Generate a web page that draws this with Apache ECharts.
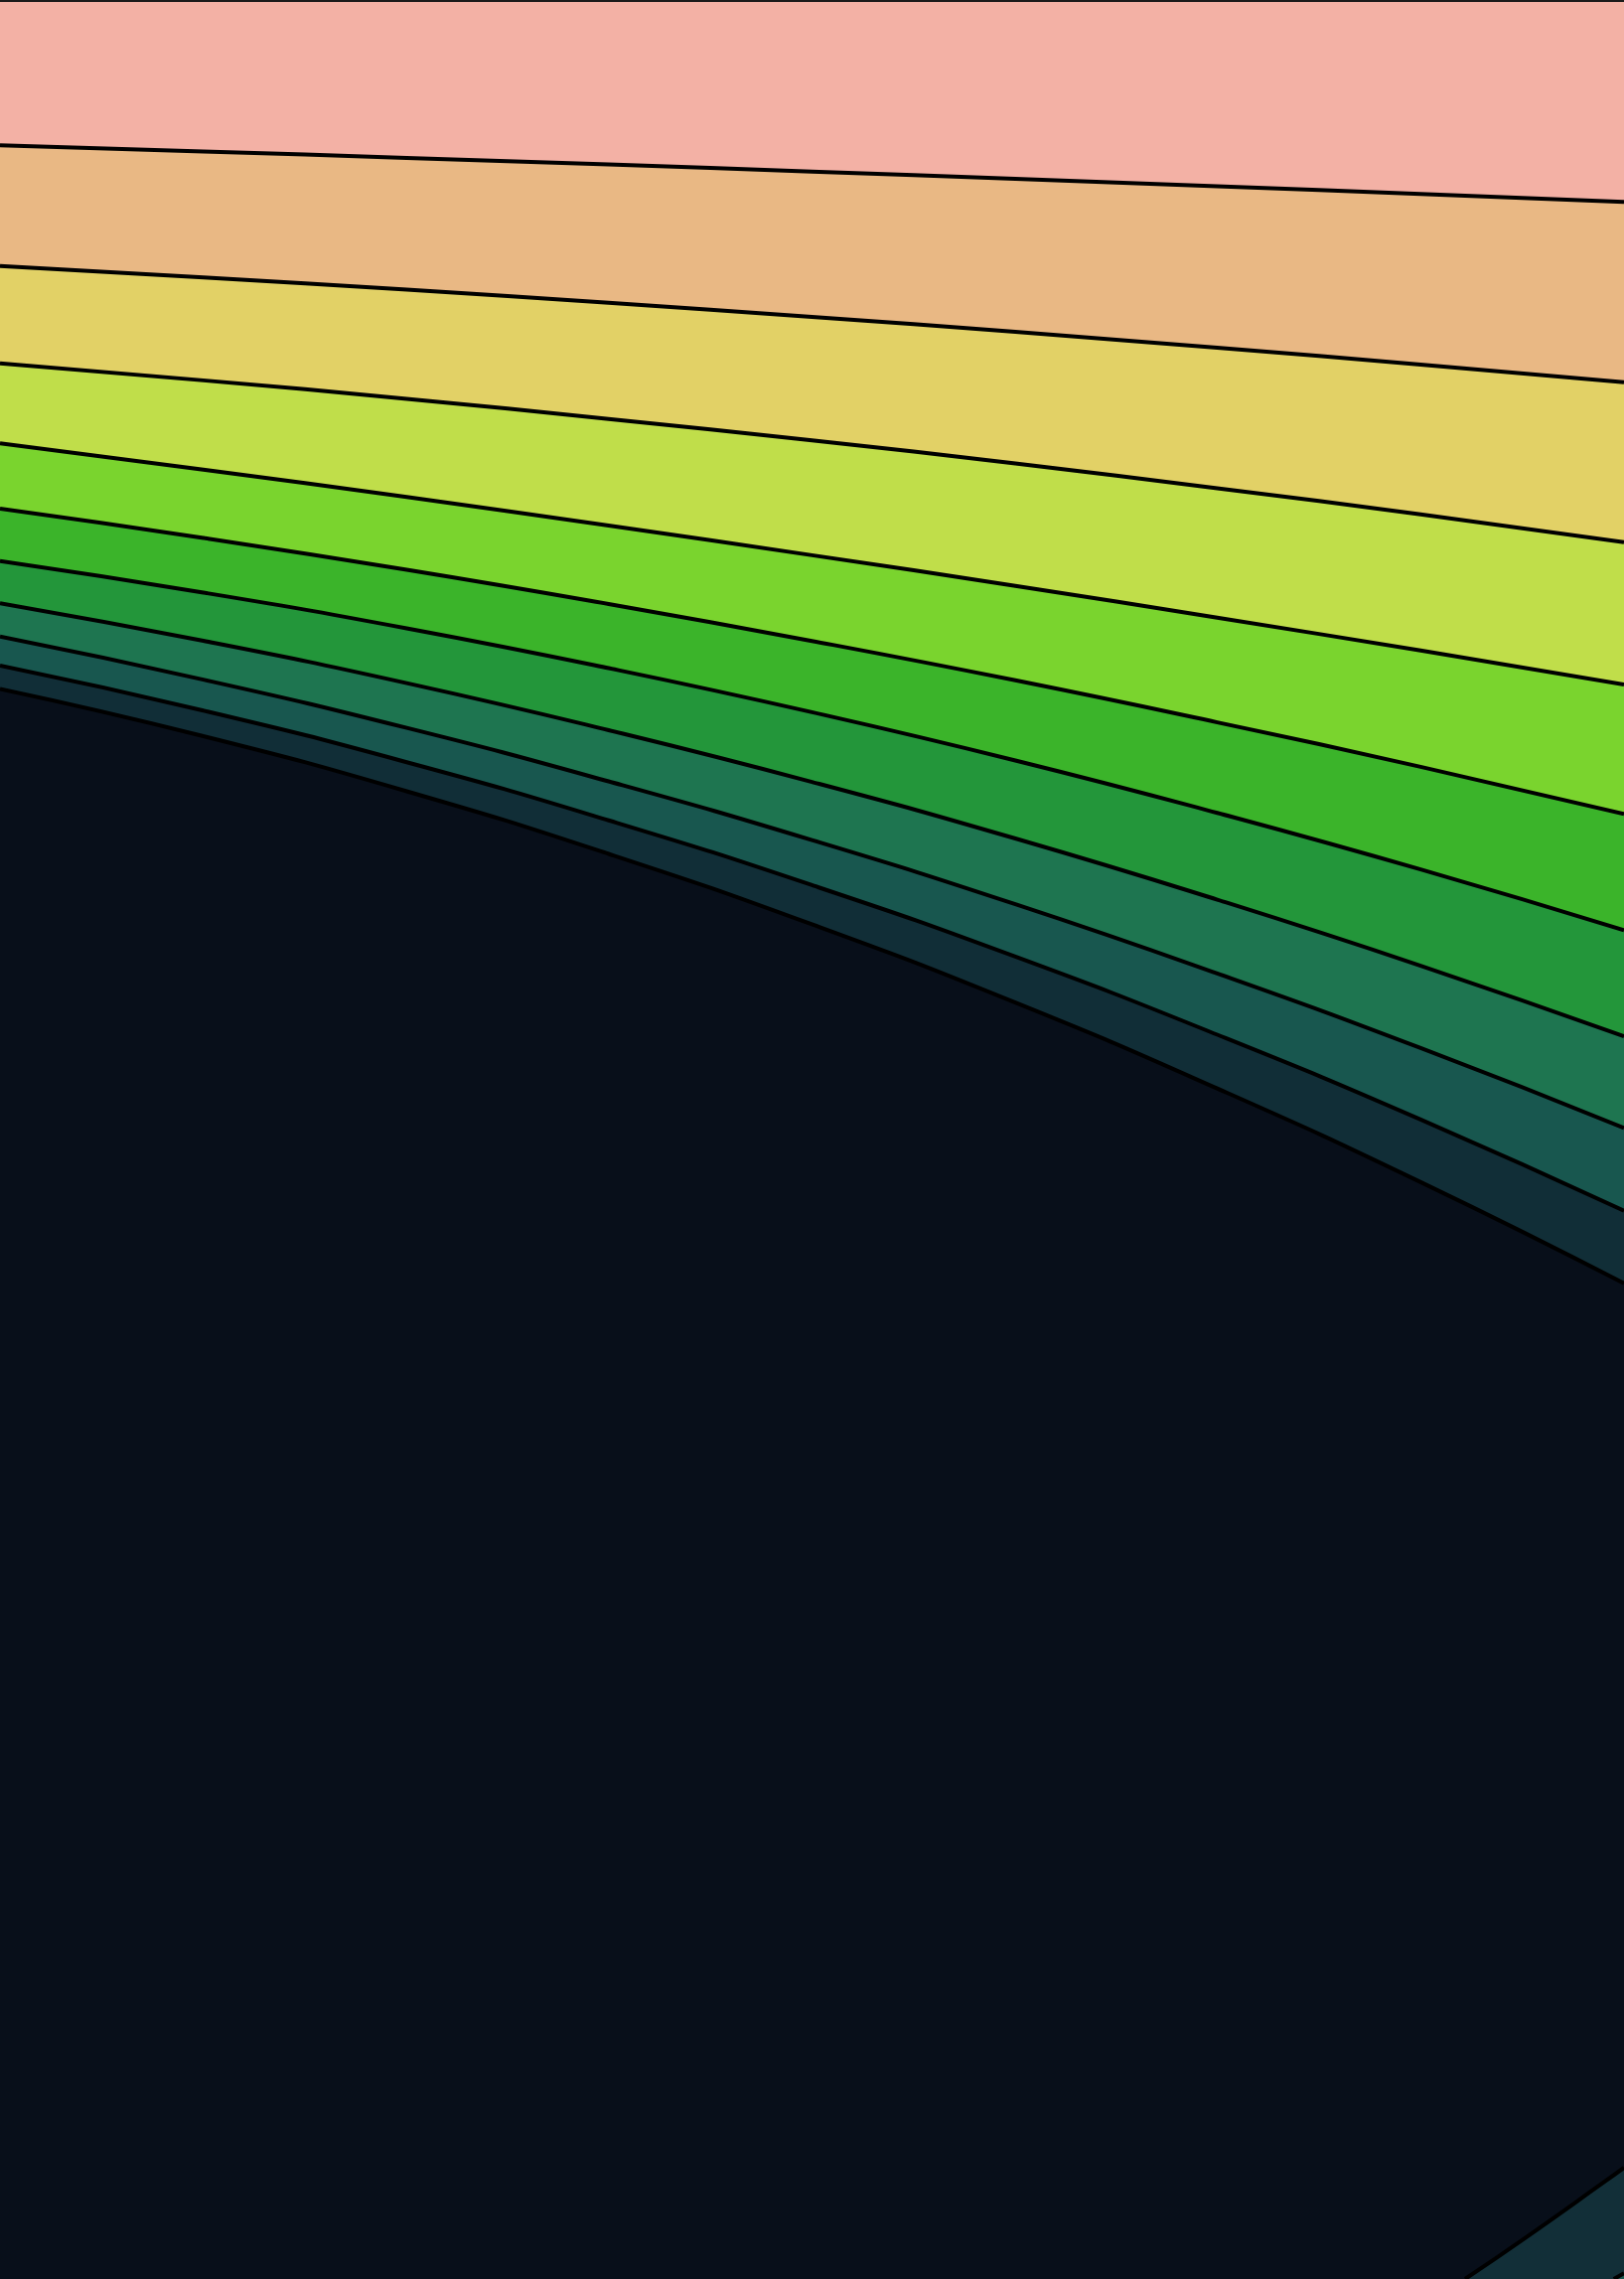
<!DOCTYPE html>
<html>
<head>
<meta charset="utf-8">
<script src="https://cdn.jsdelivr.net/npm/echarts@6/dist/echarts.min.js"></script>
<style>
  html, body { margin: 0; padding: 0; background: #f3b1a5; }
  #chart { width: 1635px; height: 2294px; }
</style>
</head>
<body>
<div id="chart"></div>
<script>
// sample x positions of the contour lines (plot units, 0..1118 wide, 0..1568 tall, y down)
var xs = [0, 140, 280, 419, 559, 699, 838, 978, 1118];

// y of each contour line at the xs above, top to bottom
var level1 = [100, 104.2, 108.6, 113.2, 118, 123, 128.1, 133.5, 139];
var level2 = [183, 190.8, 199.3, 208.3, 218, 228.3, 239.3, 250.8, 263];
var level3 = [250, 261.7, 274.4, 288.2, 303, 318.9, 335.9, 353.9, 373];
var level4 = [305, 323.1, 342, 361.6, 382, 403.1, 425, 447.6, 471];
var level5 = [350, 370.1, 392, 415.6, 441, 468.1, 497, 527.6, 560];
var level6 = [386, 407.7, 432.3, 459.7, 490, 523.2, 559.3, 598.2, 640];
var level7 = [415, 440.9, 470, 502.4, 538, 576.9, 619, 664.4, 713];
var level8 = [438, 467.6, 500.8, 537.6, 578, 622.1, 669.8, 721.1, 776];
var level9 = [458, 488.9, 524.4, 564.4, 609, 658.2, 711.9, 770.2, 833];
var level10 = [474, 506.5, 544.4, 587.5, 636, 689.8, 748.9, 813.3, 883];

// bottom right corner, contours rising again
var cornerX1 = [1008.6, 1049.6, 1105.7, 1118];
var cornerY1 = [1568, 1540, 1500.3, 1491.4];
var cornerX2 = [1111, 1118];
var cornerY2 = [1568, 1564];

// band colours, each one below its contour line
var bandColors = ["#e9b884", "#e2d166", "#c0de4a", "#7ad42e", "#3bb42a",
                  "#23963a", "#1e7550", "#18574f", "#112e37", "#080f1a"];

function pairs(xArr, yArr) {
  var out = [];
  for (var i = 0; i < xArr.length; i++) out.push([xArr[i], yArr[i]]);
  return out;
}

function band(name, data, fill) {
  return {
    name: name,
    type: "line",
    data: data,
    smooth: 0.5,
    showSymbol: false,
    symbol: "none",
    silent: true,
    lineStyle: { color: "#000", width: 4 },
    areaStyle: { color: fill, opacity: 1, origin: "end" },
  };
}

var chartDom = document.getElementById("chart");
var myChart = echarts.init(chartDom, null, { renderer: "canvas" });
var option;

var levels = [level1, level2, level3, level4, level5, level6, level7, level8, level9, level10];
var series = [];
levels.forEach(function (lv, i) {
  series.push(band("level" + (i + 1), pairs(xs, lv), bandColors[i]));
});
series.push(band("corner1", pairs(cornerX1, cornerY1), "#122f38"));
series.push(band("corner2", pairs(cornerX2, cornerY2), "#18574f"));
// thin frame line along the top
series.push({
  type: "line",
  data: [[0, 0.7], [1118, 0.7]],
  showSymbol: false,
  symbol: "none",
  silent: true,
  lineStyle: { color: "#1a1a1a", width: 2 },
});

option = {
  animation: false,
  backgroundColor: "#f3b1a5",
  grid: { left: 0, right: 0, top: 0, bottom: 0 },
  xAxis: { type: "value", min: 0, max: 1118, show: false },
  yAxis: { type: "value", min: 0, max: 1568, inverse: true, show: false },
  series: series,
};

myChart.setOption(option);
window.addEventListener("resize", function () {
  myChart.resize();
});
</script>
</body>
</html>
